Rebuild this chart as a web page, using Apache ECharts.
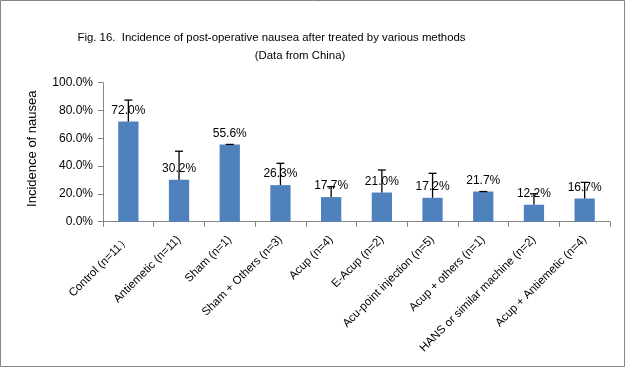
<!DOCTYPE html>
<html><head><meta charset="utf-8">
<script src="https://cdn.jsdelivr.net/npm/echarts@6/dist/echarts.min.js"></script>
<style>html,body{margin:0;padding:0;background:#fff}#c{width:625px;height:367px}</style>
</head><body><div id="c"></div>
<script>
var categories = ["Control (n=11\uFF09", "Antiemetic (n=11)", "Sham (n=1)", "Sham + Others (n=3)", "Acup (n=4)", "E-Acup (n=2)", "Acu-point injection (n=5)", "Acup + others (n=1)", "HANS or similar machine (n=2)", "Acup + Antiemetic (n=4)"];
var values = [72.0, 30.2, 55.6, 26.3, 17.7, 21.0, 17.2, 21.7, 12.2, 16.7];
var errors = [15.5, 20.5, 0, 15.7, 7.5, 16.2, 17.6, 0, 7.9, 11.6];
var yTicks = [0, 20, 40, 60, 80, 100];

var FONT = "Liberation Sans";
var chart = echarts.init(document.getElementById('c'), null, {renderer: 'canvas'});
var errData = values.map(function (v, i) { return [i, v, v + errors[i]]; });

chart.setOption({
  animation: false,
  backgroundColor: '#fff',
  textStyle: {fontFamily: FONT},
  graphic: [
    {type: 'rect', shape: {x: 0.5, y: 0.5, width: 624, height: 366}, style: {fill: 'none', stroke: '#868686', lineWidth: 1}, z: 100},
    {type: 'text', style: {text: 'Fig. 16.  Incidence of post-operative nausea after treated by various methods', fontFamily: FONT, fontSize: 11.4, fill: '#000', textAlign: 'center', textVerticalAlign: 'middle', x: 271.5, y: 38}},
    {type: 'text', style: {text: '(Data from China)', fontFamily: FONT, fontSize: 11.4, fill: '#000', textAlign: 'center', textVerticalAlign: 'middle', x: 300, y: 56}}
  ],
  grid: {left: 103, right: 15, top: 82.7, bottom: 145.3, containLabel: false},
  xAxis: {
    type: 'category',
    data: categories,
    axisLine: {lineStyle: {color: '#868686'}},
    axisTick: {show: true, alignWithLabel: false, length: 5, lineStyle: {color: '#868686'}},
    axisLabel: {rotate: 45, interval: 0, color: '#000', fontSize: 11.5, fontFamily: FONT, margin: 16}
  },
  yAxis: {
    type: 'value', min: 0, max: 100, interval: 20,
    name: 'Incidence of nausea', nameLocation: 'middle', nameGap: 64,
    nameTextStyle: {fontSize: 13, color: '#000', fontFamily: FONT, padding: [0, 0, 0, 7]},
    axisLine: {show: true, lineStyle: {color: '#868686'}},
    axisTick: {show: true, length: 5, lineStyle: {color: '#868686'}},
    splitLine: {show: false},
    axisLabel: {color: '#000', fontSize: 12, fontFamily: FONT, margin: 10, formatter: function (v) { return v.toFixed(1) + '%'; }}
  },
  series: [
    {
      type: 'bar', data: values, barCategoryGap: '60%',
      itemStyle: {color: '#4F81BD'},
      label: {show: true, position: 'top', distance: 5, color: '#000', fontSize: 12, fontFamily: FONT, formatter: function (p) { return p.value.toFixed(1) + '%'; }},
      z: 2
    },
    {
      type: 'custom', data: errData, z: 5,
      renderItem: function (params, api) {
        var x = api.coord([api.value(0), api.value(1)])[0];
        var y0 = api.coord([api.value(0), api.value(1)])[1];
        var y1 = api.coord([api.value(0), api.value(2)])[1];
        var hw = 4;
        var st = {stroke: '#000', lineWidth: 1.3};
        return {type: 'group', children: [
          {type: 'line', shape: {x1: x, y1: y0, x2: x, y2: y1}, style: st},
          {type: 'line', shape: {x1: x - hw, y1: y1, x2: x + hw, y2: y1}, style: st}
        ]};
      }
    }
  ]
});
</script></body></html>
